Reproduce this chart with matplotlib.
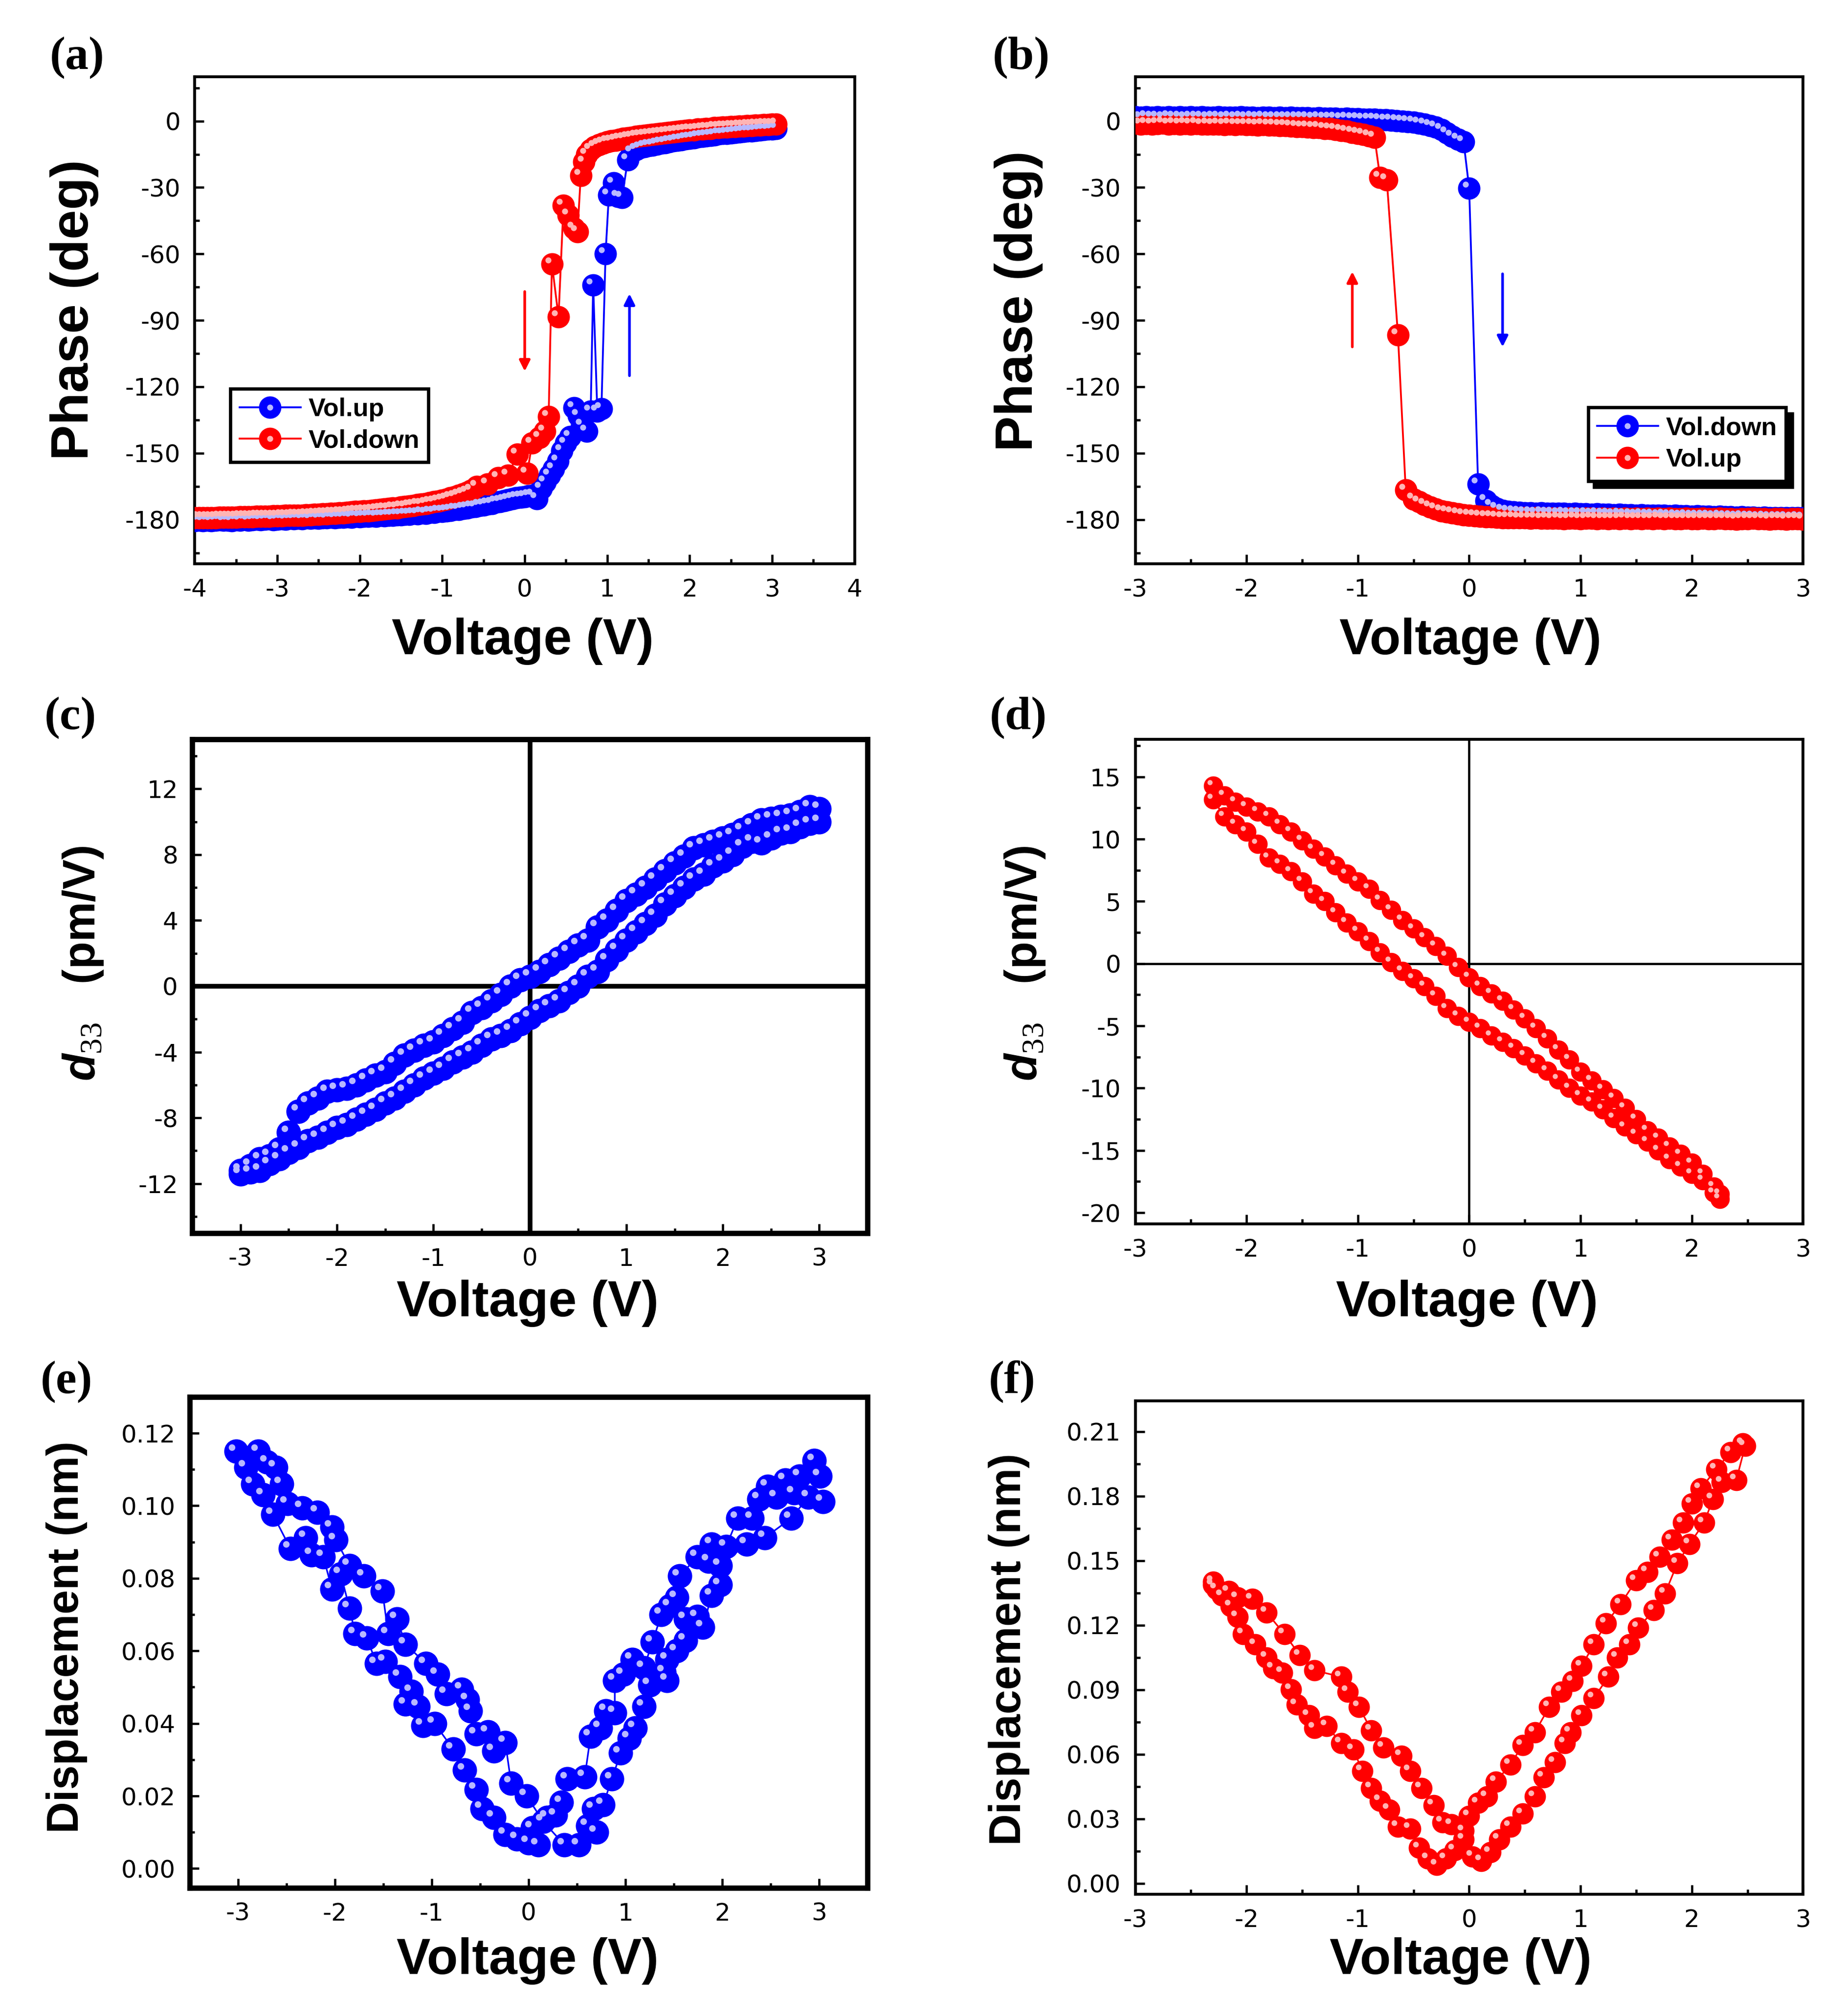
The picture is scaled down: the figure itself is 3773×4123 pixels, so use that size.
import numpy as np
import matplotlib
matplotlib.use("Agg")
import matplotlib.pyplot as plt
from matplotlib.ticker import MultipleLocator
from matplotlib.transforms import offset_copy
from matplotlib.legend_handler import HandlerTuple

plt.rcParams['font.family'] = 'DejaVu Sans'
plt.rcParams['axes.unicode_minus'] = False
plt.rcParams['mathtext.fontset'] = 'custom'
plt.rcParams['mathtext.it'] = 'Liberation Sans:italic:bold'
plt.rcParams['mathtext.rm'] = 'Liberation Serif'

# ---------------- data ----------------
# (a) phase loop, sample 1
a_up_v = [-4.00, -3.95, -3.90, -3.85, -3.80, -3.75, -3.70, -3.65, -3.60, -3.55,
          -3.50, -3.45, -3.40, -3.35, -3.30, -3.25, -3.20, -3.15, -3.10, -3.05,
          -3.00, -2.95, -2.90, -2.85, -2.80, -2.75, -2.70, -2.65, -2.60, -2.55,
          -2.50, -2.45, -2.40, -2.35, -2.30, -2.25, -2.20, -2.15, -2.10, -2.05,
          -2.00, -1.95, -1.90, -1.85, -1.80, -1.75, -1.70, -1.65, -1.60, -1.55,
          -1.50, -1.45, -1.40, -1.35, -1.30, -1.25, -1.20, -1.15, -1.10, -1.05,
          -1.00, -0.95, -0.90, -0.85, -0.80, -0.75, -0.70, -0.65, -0.60, -0.55,
          -0.50, -0.45, -0.40, -0.35, -0.30, -0.25, -0.20, -0.15, -0.10, -0.05,
          0.00, 0.05, 0.10, 0.15, 0.20, 0.25, 0.30, 0.35, 0.40, 0.45,
          0.50, 0.55, 0.60, 0.65, 0.70, 0.75, 0.80, 0.83, 0.88, 0.93,
          0.98, 1.02, 1.08, 1.13, 1.18, 1.25, 1.30, 1.35, 1.40, 1.45,
          1.50, 1.55, 1.60, 1.65, 1.70, 1.75, 1.80, 1.85, 1.90, 1.95,
          2.00, 2.05, 2.10, 2.15, 2.20, 2.25, 2.30, 2.35, 2.40, 2.45,
          2.50, 2.55, 2.60, 2.65, 2.70, 2.75, 2.80, 2.85, 2.90, 2.95,
          3.00, 3.05]
a_up_p = [-180.6, -180.3, -180.5, -180.2, -180.6, -180.3, -180.1, -180.4, -180.2, -180.5,
          -180.1, -180.3, -179.9, -180.2, -180.0, -179.8, -180.1, -179.9, -179.7, -180.0,
          -179.8, -179.6, -179.9, -179.5, -179.7, -179.4, -179.6, -179.3, -179.5, -179.2,
          -179.4, -179.1, -179.3, -179.0, -179.2, -178.9, -179.0, -178.8, -178.9, -178.6,
          -178.8, -178.5, -178.6, -178.3, -178.5, -178.2, -178.3, -178.0, -178.1, -177.8,
          -177.9, -177.6, -177.6, -177.3, -177.4, -177.0, -177.1, -176.8, -176.8, -176.4,
          -176.4, -176.0, -175.9, -175.5, -175.4, -175.0, -174.8, -174.4, -174.2, -173.7,
          -173.5, -173.0, -172.7, -172.2, -171.9, -171.4, -171.0, -170.6, -170.2, -169.9,
          -169.6, -169.3, -169.0, -170.5, -166.0, -163.0, -160.0, -157.0, -153.5, -149.0,
          -145.5, -142.5, -129.5, -133.0, -137.5, -140.0, -131.0, -74.0, -131.0, -130.0,
          -60.0, -33.5, -28.0, -34.0, -34.5, -17.5, -14.0, -12.8, -12.1, -11.6,
          -11.2, -10.8, -10.4, -10.1, -9.7, -9.4, -9.0, -8.7, -8.4, -8.1,
          -7.8, -7.5, -7.2, -6.9, -6.7, -6.4, -6.2, -5.9, -5.7, -5.5,
          -5.3, -5.1, -4.9, -4.7, -4.5, -4.4, -4.2, -4.0, -3.9, -3.7,
          -3.6, -3.4]
a_dn_v = [3.05, 3.00, 2.95, 2.90, 2.85, 2.80, 2.75, 2.70, 2.65, 2.60,
          2.55, 2.50, 2.45, 2.40, 2.35, 2.30, 2.25, 2.20, 2.15, 2.10,
          2.05, 2.00, 1.95, 1.90, 1.85, 1.80, 1.75, 1.70, 1.65, 1.60,
          1.55, 1.50, 1.45, 1.40, 1.35, 1.30, 1.25, 1.20, 1.15, 1.10,
          1.05, 1.00, 0.95, 0.90, 0.85, 0.80, 0.75, 0.72, 0.68, 0.64,
          0.60, 0.53, 0.47, 0.41, 0.33, 0.29, 0.24, 0.18, 0.09, 0.03,
          -0.09, -0.20, -0.32, -0.45, -0.58, -0.65, -0.70, -0.75, -0.80, -0.85,
          -0.90, -0.95, -1.00, -1.05, -1.10, -1.15, -1.20, -1.25, -1.30, -1.35,
          -1.40, -1.45, -1.50, -1.55, -1.60, -1.65, -1.70, -1.75, -1.80, -1.85,
          -1.90, -1.95, -2.00, -2.05, -2.10, -2.15, -2.20, -2.25, -2.30, -2.35,
          -2.40, -2.45, -2.50, -2.55, -2.60, -2.65, -2.70, -2.75, -2.80, -2.85,
          -2.90, -2.95, -3.00, -3.05, -3.10, -3.15, -3.20, -3.25, -3.30, -3.35,
          -3.40, -3.45, -3.50, -3.55, -3.60, -3.65, -3.70, -3.75, -3.80, -3.85,
          -3.90, -3.95, -4.00]
a_dn_p = [-1.4, -1.5, -1.7, -1.6, -1.9, -1.8, -2.1, -2.0, -2.3, -2.2,
          -2.5, -2.5, -2.7, -2.8, -3.0, -3.0, -3.3, -3.4, -3.6, -3.7,
          -4.0, -4.1, -4.3, -4.5, -4.7, -4.9, -5.1, -5.3, -5.5, -5.8,
          -6.0, -6.2, -6.5, -6.7, -7.0, -7.3, -7.6, -7.9, -8.3, -8.6,
          -9.0, -9.4, -10.0, -10.7, -11.6, -12.8, -15.0, -18.5, -24.5, -50.0,
          -48.5, -42.5, -38.0, -88.5, -64.5, -133.5, -140.0, -143.0, -145.5, -159.0,
          -150.5, -160.0, -161.0, -164.0, -165.0, -166.8, -167.6, -168.3, -169.0, -169.6,
          -170.2, -170.7, -171.2, -171.6, -172.0, -172.4, -172.7, -173.1, -173.3, -173.7,
          -173.9, -174.2, -174.4, -174.7, -174.8, -175.1, -175.2, -175.5, -175.6, -175.8,
          -176.0, -176.1, -176.3, -176.4, -176.6, -176.7, -176.9, -177.0, -177.1, -177.2,
          -177.4, -177.4, -177.6, -177.6, -177.8, -177.8, -178.0, -178.0, -178.1, -178.2,
          -178.2, -178.3, -178.4, -178.4, -178.5, -178.5, -178.6, -178.6, -178.7, -178.7,
          -178.8, -178.8, -178.9, -178.9, -179.0, -179.0, -179.0, -179.1, -179.1, -179.1,
          -179.2, -179.2, -179.2]

# (b) phase loop, sample 2
b_dn_v = [-3.00, -2.95, -2.90, -2.85, -2.80, -2.75, -2.70, -2.65, -2.60, -2.55,
          -2.50, -2.45, -2.40, -2.35, -2.30, -2.25, -2.20, -2.15, -2.10, -2.05,
          -2.00, -1.95, -1.90, -1.85, -1.80, -1.75, -1.70, -1.65, -1.60, -1.55,
          -1.50, -1.45, -1.40, -1.35, -1.30, -1.25, -1.20, -1.15, -1.10, -1.05,
          -1.00, -0.95, -0.90, -0.85, -0.80, -0.75, -0.70, -0.65, -0.60, -0.55,
          -0.50, -0.45, -0.40, -0.35, -0.30, -0.25, -0.20, -0.15, -0.10, -0.05,
          0.00, 0.08, 0.15, 0.20, 0.25, 0.30, 0.35, 0.40, 0.45, 0.50,
          0.55, 0.60, 0.65, 0.70, 0.75, 0.80, 0.85, 0.90, 0.95, 1.00,
          1.05, 1.10, 1.15, 1.20, 1.25, 1.30, 1.35, 1.40, 1.45, 1.50,
          1.55, 1.60, 1.65, 1.70, 1.75, 1.80, 1.85, 1.90, 1.95, 2.00,
          2.05, 2.10, 2.15, 2.20, 2.25, 2.30, 2.35, 2.40, 2.45, 2.50,
          2.55, 2.60, 2.65, 2.70, 2.75, 2.80, 2.85, 2.90, 2.95, 3.00]
b_dn_p = [1.8, 1.6, 1.9, 1.7, 1.8, 1.6, 1.9, 1.7, 1.8, 1.6,
          1.8, 1.7, 1.8, 1.6, 1.7, 1.8, 1.6, 1.7, 1.6, 1.8,
          1.6, 1.7, 1.5, 1.7, 1.6, 1.5, 1.6, 1.4, 1.6, 1.5,
          1.4, 1.5, 1.3, 1.4, 1.3, 1.2, 1.3, 1.1, 1.2, 1.0,
          1.0, 0.9, 0.8, 0.8, 0.6, 0.5, 0.4, 0.2, 0.0, -0.2,
          -0.5, -0.9, -1.4, -2.0, -2.8, -3.9, -5.3, -7.0, -8.2, -9.3,
          -30.3, -164.0, -171.5, -173.6, -175.0, -175.8, -176.3, -176.6, -176.8, -177.0,
          -176.9, -177.1, -177.0, -177.2, -177.1, -177.3, -177.2, -177.4, -177.3, -177.5,
          -177.4, -177.6, -177.5, -177.7, -177.6, -177.8, -177.7, -177.9, -177.8, -178.0,
          -177.9, -178.1, -178.0, -178.2, -178.1, -178.3, -178.2, -178.4, -178.3, -178.5,
          -178.4, -178.6, -178.5, -178.7, -178.6, -178.8, -178.7, -178.9, -178.8, -179.0,
          -178.9, -179.1, -179.0, -179.2, -179.1, -179.2, -179.1, -179.3, -179.2, -179.3]
b_up_v = [-3.00, -2.95, -2.90, -2.85, -2.80, -2.75, -2.70, -2.65, -2.60, -2.55,
          -2.50, -2.45, -2.40, -2.35, -2.30, -2.25, -2.20, -2.15, -2.10, -2.05,
          -2.00, -1.95, -1.90, -1.85, -1.80, -1.75, -1.70, -1.65, -1.60, -1.55,
          -1.50, -1.45, -1.40, -1.35, -1.30, -1.25, -1.20, -1.15, -1.10, -1.05,
          -1.00, -0.95, -0.90, -0.85, -0.80, -0.74, -0.64, -0.57, -0.50, -0.45,
          -0.40, -0.35, -0.30, -0.25, -0.20, -0.15, -0.10, -0.05, 0.00, 0.05,
          0.10, 0.15, 0.20, 0.25, 0.30, 0.35, 0.40, 0.45, 0.50, 0.55,
          0.60, 0.65, 0.70, 0.75, 0.80, 0.85, 0.90, 0.95, 1.00, 1.05,
          1.10, 1.15, 1.20, 1.25, 1.30, 1.35, 1.40, 1.45, 1.50, 1.55,
          1.60, 1.65, 1.70, 1.75, 1.80, 1.85, 1.90, 1.95, 2.00, 2.05,
          2.10, 2.15, 2.20, 2.25, 2.30, 2.35, 2.40, 2.45, 2.50, 2.55,
          2.60, 2.65, 2.70, 2.75, 2.80, 2.85, 2.90, 2.95, 3.00]
b_up_p = [-1.0, -1.3, -1.1, -1.4, -1.2, -1.0, -1.3, -1.1, -1.4, -1.2,
          -1.4, -1.2, -1.5, -1.3, -1.5, -1.4, -1.6, -1.4, -1.7, -1.5,
          -1.7, -1.6, -1.8, -1.7, -1.9, -1.9, -2.1, -2.1, -2.3, -2.4,
          -2.6, -2.7, -2.9, -3.0, -3.3, -3.5, -3.8, -4.2, -4.6, -5.1,
          -5.5, -6.0, -6.6, -7.4, -25.5, -26.5, -96.5, -166.7, -170.7, -172.0,
          -173.2, -174.4, -175.3, -176.0, -176.6, -177.0, -177.4, -177.8, -178.0, -178.3,
          -178.5, -178.7, -178.8, -179.0, -179.1, -179.2, -179.2, -179.3, -179.3, -179.4,
          -179.3, -179.5, -179.4, -179.5, -179.4, -179.6, -179.5, -179.4, -179.6, -179.5,
          -179.4, -179.6, -179.5, -179.7, -179.5, -179.6, -179.4, -179.6, -179.5, -179.7,
          -179.5, -179.6, -179.4, -179.6, -179.5, -179.7, -179.6, -179.5, -179.7, -179.6,
          -179.5, -179.7, -179.6, -179.5, -179.7, -179.6, -179.8, -179.6, -179.7, -179.5,
          -179.7, -179.6, -179.8, -179.6, -179.7, -179.8, -179.6, -179.7, -179.8]

# (c) d33 loop, sample 1
c_up_v = [-3.0, -2.9, -2.8, -2.7, -2.6, -2.5, -2.4, -2.3, -2.2, -2.1,
          -2.0, -1.9, -1.8, -1.7, -1.6, -1.5, -1.4, -1.3, -1.2, -1.1,
          -1.0, -0.9, -0.8, -0.7, -0.6, -0.5, -0.4, -0.3, -0.2, -0.1,
          0.0,
          0.1, 0.2, 0.3, 0.4, 0.5, 0.6, 0.7, 0.8, 0.9, 1.0,
          1.1, 1.2, 1.3, 1.4, 1.5, 1.6, 1.7, 1.8, 1.9, 2.0,
          2.1, 2.2, 2.3, 2.4, 2.5, 2.6, 2.7, 2.8, 2.9, 3.0]
c_up_d = [-11.2, -10.9, -10.5, -10.3, -9.9, -8.9, -7.6, -7.1, -6.8, -6.4,
          -6.3, -6.2, -6.0, -5.7, -5.4, -5.2, -4.7, -4.2, -3.9, -3.6,
          -3.4, -3.0, -2.6, -2.2, -1.6, -1.3, -0.9, -0.5, 0.0, 0.4,
          0.6,
          0.9, 1.3, 1.7, 2.1, 2.5, 2.8, 3.6, 4.0, 4.6, 5.2,
          5.6, 6.0, 6.5, 7.0, 7.5, 7.9, 8.4, 8.6, 8.8, 9.0,
          9.2, 9.5, 9.8, 10.1, 10.2, 10.3, 10.4, 10.6, 10.9, 10.8]
c_dn_v = [3.0, 2.9, 2.8, 2.7, 2.6, 2.5, 2.4, 2.3, 2.2, 2.1,
          2.0, 1.9, 1.8, 1.7, 1.6, 1.5, 1.4, 1.3, 1.2, 1.1,
          1.0, 0.9, 0.8, 0.7, 0.6, 0.5, 0.4, 0.3, 0.2, 0.1,
          0.0,
          -0.1, -0.2, -0.3, -0.4, -0.5, -0.6, -0.7, -0.8, -0.9, -1.0,
          -1.1, -1.2, -1.3, -1.4, -1.5, -1.6, -1.7, -1.8, -1.9, -2.0,
          -2.1, -2.2, -2.3, -2.4, -2.5, -2.6, -2.7, -2.8, -2.9, -3.0]
c_dn_d = [10.0, 9.9, 9.7, 9.4, 9.3, 9.0, 8.7, 8.8, 8.5, 8.0,
          7.6, 7.3, 6.8, 6.5, 6.0, 5.5, 5.0, 4.3, 3.8, 3.3,
          2.8, 2.2, 1.6, 0.9, 0.6, 0.0, -0.4, -0.9, -1.2, -1.5,
          -1.9,
          -2.3, -2.7, -3.0, -3.2, -3.6, -4.0, -4.3, -4.6, -5.0, -5.3,
          -5.6, -6.0, -6.4, -6.8, -7.1, -7.5, -7.8, -8.1, -8.4, -8.6,
          -8.9, -9.2, -9.4, -9.8, -10.1, -10.5, -10.8, -11.2, -11.3, -11.4]

# (d) d33 loop, sample 2
d_up_v = [-2.3, -2.2, -2.1, -2.0, -1.9, -1.8, -1.7, -1.6, -1.5, -1.4,
          -1.3, -1.2, -1.1, -1.0, -0.9, -0.8, -0.7, -0.6, -0.5, -0.4,
          -0.3, -0.2, -0.1, 0.0, 0.1, 0.2, 0.3, 0.4, 0.5, 0.6,
          0.7, 0.8, 0.9, 1.0, 1.1, 1.2, 1.3, 1.4, 1.5, 1.6,
          1.7, 1.8, 1.9, 2.0, 2.1, 2.2, 2.25]
d_up_d = [14.3, 13.5, 13.0, 12.6, 12.2, 11.8, 11.2, 10.6, 9.9, 9.2,
          8.6, 7.9, 7.2, 6.6, 6.0, 5.1, 4.3, 3.5, 2.8, 2.1,
          1.4, 0.6, -0.3, -1.1, -1.8, -2.4, -3.0, -3.7, -4.4, -5.2,
          -6.0, -6.9, -7.7, -8.7, -9.4, -10.1, -10.8, -11.6, -12.5, -13.4,
          -14.0, -14.7, -15.3, -16.0, -16.9, -17.9, -18.5]
d_dn_v = [2.25, 2.2, 2.1, 2.0, 1.9, 1.8, 1.7, 1.6, 1.5, 1.4,
          1.3, 1.2, 1.1, 1.0, 0.9, 0.8, 0.7, 0.6, 0.5, 0.4,
          0.3, 0.2, 0.1, 0.0, -0.1, -0.2, -0.3, -0.4, -0.5, -0.6,
          -0.7, -0.8, -0.9, -1.0, -1.1, -1.2, -1.3, -1.4, -1.5, -1.6,
          -1.7, -1.8, -1.9, -2.0, -2.1, -2.2, -2.3]
d_dn_d = [-18.9, -18.4, -17.4, -16.9, -16.3, -15.7, -15.0, -14.3, -13.7, -13.1,
          -12.4, -11.7, -11.1, -10.6, -10.0, -9.3, -8.6, -8.0, -7.4, -6.8,
          -6.3, -5.8, -5.2, -4.7, -4.2, -3.6, -2.6, -1.8, -1.2, -0.6,
          0.1, 0.9, 1.8, 2.6, 3.3, 4.1, 5.0, 5.6, 6.6, 7.4,
          8.0, 8.5, 9.6, 10.6, 11.2, 11.8, 13.2]

# (e) displacement butterfly, sample 1
e_a_v = [-3.02, -2.92, -2.85, -2.74, -2.64, -2.46, -2.30, -2.24, -2.12, -2.03,
         -1.94, -1.85, -1.79, -1.67, -1.57, -1.48, -1.33, -1.27, -1.21, -1.14,
         -1.09, -0.97, -0.78, -0.66, -0.54, -0.48, -0.36, -0.24, -0.12, 0.00,
         0.04, 0.10, 0.19, 0.28, 0.34, 0.40, 0.58, 0.64, 0.74, 0.80,
         0.89, 0.89, 0.98, 1.07, 1.19, 1.28, 1.37, 1.46, 1.53, 1.56,
         1.74, 1.86, 1.89, 2.04, 2.16, 2.31, 2.38, 2.47, 2.56, 2.65,
         2.74, 2.80, 2.95, 3.01]
e_a_z = [0.1150, 0.1106, 0.1060, 0.1030, 0.0976, 0.0882, 0.0912, 0.0865, 0.0859, 0.0770,
         0.0812, 0.0718, 0.0647, 0.0635, 0.0565, 0.0571, 0.0529, 0.0453, 0.0488, 0.0447,
         0.0394, 0.0400, 0.0329, 0.0271, 0.0218, 0.0165, 0.0141, 0.0094, 0.0082, 0.0071,
         0.0112, 0.0065, 0.0141, 0.0147, 0.0182, 0.0247, 0.0253, 0.0365, 0.0388, 0.0435,
         0.0429, 0.0518, 0.0535, 0.0576, 0.0553, 0.0624, 0.0700, 0.0724, 0.0747, 0.0806,
         0.0859, 0.0847, 0.0894, 0.0888, 0.0965, 0.0965, 0.1018, 0.1053, 0.1024, 0.1071,
         0.1035, 0.1082, 0.1124, 0.1082]
e_b_v = [3.04, 2.89, 2.71, 2.44, 2.25, 1.98, 1.98, 1.89, 1.80, 1.74,
         1.62, 1.62, 1.53, 1.43, 1.43, 1.40, 1.25, 1.19, 1.10, 1.04,
         0.95, 0.86, 0.77, 0.67, 0.70, 0.61, 0.52, 0.37, 0.15, -0.02,
         -0.18, -0.24, -0.36, -0.42, -0.54, -0.60, -0.63, -0.69, -0.85, -0.94,
         -1.06, -1.27, -1.36, -1.45, -1.51, -1.70, -1.85, -1.99, -2.03, -2.18,
         -2.34, -2.49, -2.55, -2.61, -2.70, -2.79]
e_b_z = [0.1012, 0.1024, 0.0965, 0.0912, 0.0894, 0.0835, 0.0782, 0.0753, 0.0665, 0.0694,
         0.0688, 0.0629, 0.0600, 0.0576, 0.0518, 0.0541, 0.0506, 0.0447, 0.0388, 0.0359,
         0.0318, 0.0247, 0.0176, 0.0165, 0.0100, 0.0118, 0.0065, 0.0065, 0.0130, 0.0200,
         0.0235, 0.0347, 0.0324, 0.0376, 0.0371, 0.0435, 0.0465, 0.0494, 0.0482, 0.0535,
         0.0565, 0.0618, 0.0688, 0.0647, 0.0765, 0.0806, 0.0835, 0.0906, 0.0941, 0.0982,
         0.0994, 0.1006, 0.1060, 0.1106, 0.1120, 0.1150]

# (f) displacement butterfly, sample 2
f_a_v = [-2.30, -2.22, -2.14, -2.08, -2.03, -1.92, -1.82, -1.76, -1.68, -1.60,
         -1.55, -1.44, -1.39, -1.28, -1.15, -1.04, -0.96, -0.88, -0.80, -0.72,
         -0.64, -0.53, -0.45, -0.37, -0.29, -0.21, -0.13, -0.05, 0.00, 0.08,
         0.16, 0.24, 0.37, 0.48, 0.59, 0.72, 0.83, 0.93, 1.01, 1.12,
         1.23, 1.36, 1.50, 1.60, 1.71, 1.82, 1.92, 2.00, 2.08, 2.22,
         2.35, 2.46]
f_a_z = [0.1388, 0.1338, 0.1289, 0.1239, 0.1159, 0.1110, 0.1050, 0.1000, 0.0980, 0.0901,
         0.0831, 0.0781, 0.0722, 0.0732, 0.0652, 0.0622, 0.0523, 0.0443, 0.0384, 0.0344,
         0.0264, 0.0255, 0.0165, 0.0115, 0.0086, 0.0115, 0.0155, 0.0205, 0.0314, 0.0374,
         0.0404, 0.0473, 0.0553, 0.0642, 0.0702, 0.0821, 0.0891, 0.0940, 0.1010, 0.1110,
         0.1209, 0.1298, 0.1408, 0.1448, 0.1517, 0.1597, 0.1676, 0.1766, 0.1835, 0.1925,
         0.2004, 0.2044]
f_b_v = [2.48, 2.40, 2.27, 2.19, 2.11, 1.98, 1.87, 1.76, 1.66, 1.52,
         1.44, 1.33, 1.25, 1.12, 1.01, 0.91, 0.86, 0.77, 0.67, 0.59,
         0.48, 0.37, 0.27, 0.19, 0.11, 0.03, -0.05, -0.16, -0.24, -0.32,
         -0.43, -0.53, -0.61, -0.77, -0.88, -0.99, -1.09, -1.15, -1.39, -1.52,
         -1.66, -1.82, -1.95, -2.08, -2.16, -2.27, -2.30]
f_b_z = [0.2034, 0.1875, 0.1865, 0.1786, 0.1676, 0.1577, 0.1487, 0.1348, 0.1269, 0.1189,
         0.1110, 0.1050, 0.0960, 0.0861, 0.0781, 0.0702, 0.0652, 0.0563, 0.0493, 0.0404,
         0.0324, 0.0264, 0.0205, 0.0145, 0.0105, 0.0125, 0.0245, 0.0274, 0.0284, 0.0364,
         0.0443, 0.0523, 0.0593, 0.0632, 0.0712, 0.0821, 0.0891, 0.0960, 0.0990, 0.1060,
         0.1159, 0.1259, 0.1322, 0.1328, 0.1358, 0.1368, 0.1402]

BLUE, RED = '#0000ff', '#ff0000'
HI = {BLUE: '#b8b8ff', RED: '#ffb4b4'}

fig = plt.figure(figsize=(3773 / 300, 4123 / 300), dpi=300)

LAB = dict(family='Liberation Sans', weight='bold')


def style(ax, xlim, ylim, xmaj, ymaj, frame=1.4):
    ax.set_xlim(*xlim)
    ax.set_ylim(*ylim)
    ax.xaxis.set_major_locator(MultipleLocator(xmaj))
    ax.xaxis.set_minor_locator(MultipleLocator(xmaj / 2))
    ax.yaxis.set_major_locator(MultipleLocator(ymaj))
    ax.yaxis.set_minor_locator(MultipleLocator(ymaj / 2))
    ax.tick_params(which='both', direction='in', top=False, right=False,
                   width=1.1, labelsize=12)
    ax.tick_params(which='major', length=4.5, pad=7)
    ax.tick_params(which='minor', length=2.3)
    for s in ax.spines.values():
        s.set_linewidth(frame)


def balls(ax, x, y, col, ms, lw=0.9):
    ln, = ax.plot(x, y, '-', color=col, lw=lw, marker='o', ms=ms,
                  mfc=col, mec=col, mew=0.5, zorder=3)
    tr = offset_copy(ax.transData, fig=fig, x=-0.18 * ms, y=0.18 * ms, units='points')
    hi, = ax.plot(x, y, 'o', ms=ms * 0.28, color=HI[col], mec='none',
                  transform=tr, zorder=3.1)
    return ln, hi


def arrow(ax, x, y0, y1, col):
    ax.annotate('', xy=(x, y1), xytext=(x, y0),
                arrowprops=dict(arrowstyle='-|>', color=col, lw=1.3,
                                mutation_scale=11, shrinkA=0, shrinkB=0))


def legend(ax, handles, labels, anchor, shadow=False):
    kw = dict(handles=handles, labels=labels, loc='upper left',
              bbox_to_anchor=anchor, handler_map={tuple: HandlerTuple(ndivide=1)},
              prop=dict(family='Liberation Sans', weight='bold', size=12.5),
              frameon=True, fancybox=False, edgecolor='black', framealpha=1,
              handlelength=2.4, handletextpad=0.3, borderpad=0.35,
              labelspacing=0.3, borderaxespad=0)
    if shadow:
        kw['shadow'] = {'ox': 3, 'oy': -3, 'facecolor': 'black',
                        'edgecolor': 'black', 'alpha': 1.0}
    leg = ax.legend(**kw)
    leg.get_frame().set_linewidth(1.6)


# ---- (a)
ax = fig.add_axes([0.1056, 0.7203, 0.3576, 0.2416])
style(ax, (-4, 4), (-200, 20), 1, 30)
hb = balls(ax, a_up_v, a_up_p, BLUE, 10.5)
hr = balls(ax, a_dn_v, a_dn_p, RED, 10.5)
arrow(ax, 0.0, -77, -113, RED)
arrow(ax, 1.27, -115, -78, BLUE)
legend(ax, [hb, hr], ['Vol.up', 'Vol.down'], (0.054, 0.36))

# ---- (b)
ax = fig.add_axes([0.6153, 0.7203, 0.3620, 0.2416])
style(ax, (-3, 3), (-200, 20), 1, 30)
hb = balls(ax, b_dn_v, b_dn_p, BLUE, 10.5)
hr = balls(ax, b_up_v, b_up_p, RED, 10.5)
arrow(ax, -1.05, -102, -68, RED)
arrow(ax, 0.30, -69, -102, BLUE)
legend(ax, [hb, hr], ['Vol.down', 'Vol.up'], (0.678, 0.321), shadow=True)

# ---- (c)
ax = fig.add_axes([0.1042, 0.3884, 0.3660, 0.2448])
style(ax, (-3.5, 3.5), (-15, 15), 1, 4, frame=2.6)
ax.axhline(0, color='black', lw=2.3, zorder=1)
ax.axvline(0, color='black', lw=2.3, zorder=1)
balls(ax, c_up_v, c_up_d, BLUE, 11.5)
balls(ax, c_dn_v, c_dn_d, BLUE, 11.5)

# ---- (d)
ax = fig.add_axes([0.6153, 0.3929, 0.3620, 0.2403])
style(ax, (-3, 3), (-20.9, 18), 1, 5)
ax.axhline(0, color='black', lw=1.1, zorder=1)
ax.axvline(0, color='black', lw=1.1, zorder=1)
balls(ax, d_up_v, d_up_d, RED, 9)
balls(ax, d_dn_v, d_dn_d, RED, 9)

# ---- (e)
ax = fig.add_axes([0.1028, 0.0636, 0.3674, 0.2435])
style(ax, (-3.5, 3.5), (-0.0053, 0.13), 1, 0.02, frame=2.6)
balls(ax, e_a_v, e_a_z, BLUE, 11.5, lw=0.8)
balls(ax, e_b_v, e_b_z, BLUE, 11.5, lw=0.8)

# ---- (f)
ax = fig.add_axes([0.6153, 0.0604, 0.3620, 0.2448])
style(ax, (-3, 3), (-0.005, 0.2243), 1, 0.03)
balls(ax, f_a_v, f_a_z, RED, 10, lw=0.8)
balls(ax, f_b_v, f_b_z, RED, 10, lw=0.8)

# ---- axis titles and panel letters
for x, y in [(0.2833, 0.682), (0.797, 0.682), (0.286, 0.3535),
             (0.795, 0.3535), (0.286, 0.0273), (0.7917, 0.0273)]:
    fig.text(x, y, 'Voltage (V)', ha='center', va='center', size=25, **LAB)

fig.text(0.0403, 0.8462, 'Phase (deg)', rotation=90, ha='center', va='center', size=26, **LAB)
fig.text(0.552, 0.8506, 'Phase (deg)', rotation=90, ha='center', va='center', size=26, **LAB)
fig.text(0.0451, 0.522, '$d_{33}$   (pm/V)', rotation=90, ha='center', va='center', size=22, **LAB)
fig.text(0.5556, 0.522, '$d_{33}$   (pm/V)', rotation=90, ha='center', va='center', size=22, **LAB)
fig.text(0.0361, 0.188, 'Displacement (nm)', rotation=90, ha='center', va='center', size=21.5, **LAB)
fig.text(0.547, 0.182, 'Displacement (nm)', rotation=90, ha='center', va='center', size=21.5, **LAB)

for s, x, y in [('(a)', 0.0417, 0.9714), ('(b)', 0.5535, 0.9714),
                ('(c)', 0.0382, 0.644), ('(d)', 0.552, 0.644),
                ('(e)', 0.0361, 0.3147), ('(f)', 0.5486, 0.3147)]:
    fig.text(x, y, s, ha='center', va='center', size=23,
             family='Liberation Serif', weight='bold')

fig.savefig('out.png', dpi=300)
